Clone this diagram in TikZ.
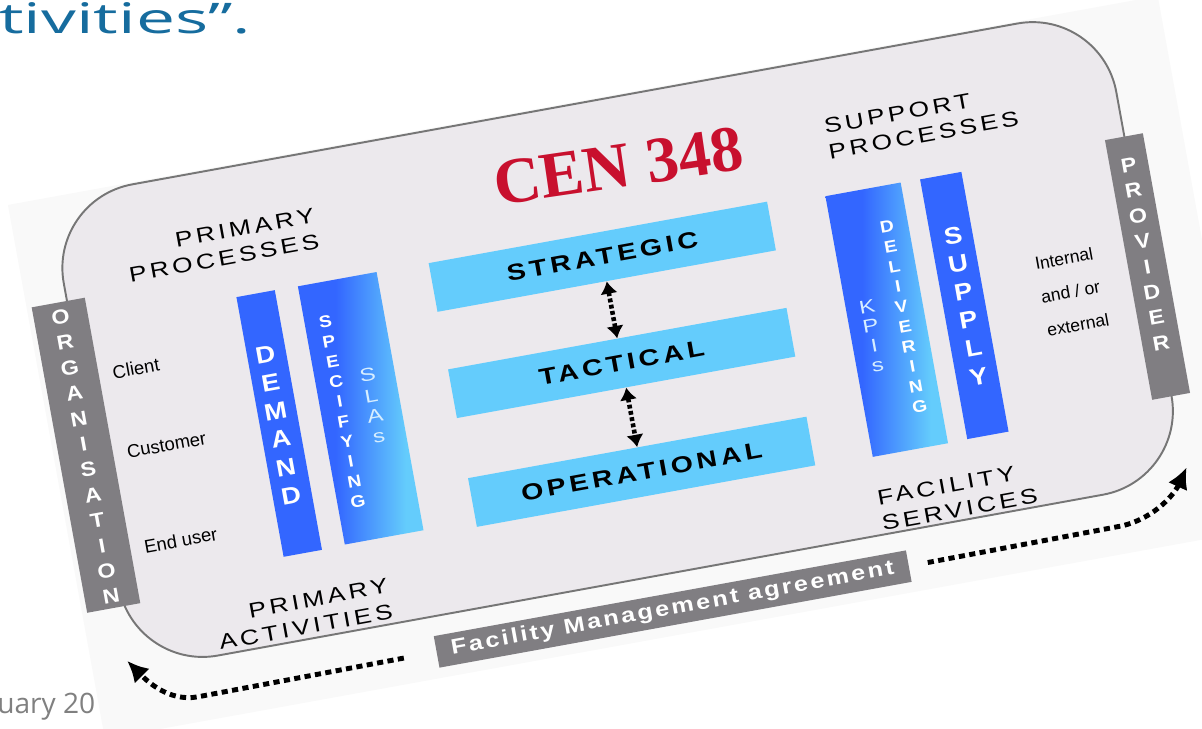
\documentclass[tikz,border=0pt]{standalone}
\usepackage{fontspec}
\setmainfont{Liberation Sans}
\newfontfamily\capsfont[LetterSpace=17, FakeStretch=1.25]{Liberation Sans}
\newfontfamily\barfont[LetterSpace=12, FakeStretch=1.2]{Liberation Sans}
\newfontfamily\stackfont[FakeStretch=1.15]{Liberation Sans}
\newfontfamily\thinfont[FakeStretch=1.3]{Liberation Sans}
\newfontfamily\cenfont{Liberation Serif}
\newfontfamily\slidefont[FakeStretch=1.65]{Open Sans}
\newfontfamily\datefont{Open Sans}
\usetikzlibrary{arrows.meta}

\definecolor{backgray}{RGB}{249,249,249}
\definecolor{panelgray}{RGB}{236,233,237}
\definecolor{edgegray}{RGB}{118,118,118}
\definecolor{bargray}{RGB}{128,126,130}
\definecolor{fmblue}{RGB}{51,102,255}
\definecolor{fmcyan}{RGB}{100,204,252}
\definecolor{palecyan}{RGB}{215,238,255}
\definecolor{cenred}{RGB}{200,16,46}
\definecolor{slideblue}{RGB}{22,108,158}
\definecolor{slidegray}{RGB}{128,128,128}
\pgfdeclarehorizontalshading{fmshade}{100bp}{color(0bp)=(fmblue); color(25bp)=(fmblue); color(40bp)=(fmblue); color(68bp)=(fmcyan); color(100bp)=(fmcyan)}

\begin{document}
\begin{tikzpicture}[
    x=0.02cm, y=-0.02cm,
    every node/.style={transform shape},
    backdrop/.style={rectangle, fill=backgray, inner sep=0pt},
    panel/.style={rectangle, rounded corners=1.7cm, fill=panelgray, draw=edgegray, line width=1.1pt, inner sep=0pt},
    sidebar/.style={rectangle, fill=bargray, inner sep=0pt},
    colbar/.style={rectangle, inner sep=0pt, minimum height=5.28cm},
    levelbar/.style={rectangle, fill=fmcyan, inner sep=0pt, minimum width=6.88cm, minimum height=0.99cm, font=\capsfont\bfseries\fontsize{13}{15}\selectfont},
    fmbar/.style={rectangle, fill=bargray, inner sep=0pt, minimum width=9.6cm, minimum height=0.64cm, text=white, font=\barfont\bfseries\fontsize{12}{14}\selectfont},
    bigletters/.style={align=center, inner sep=0pt, text=white, font=\stackfont\bfseries\fontsize{13.5}{16.3}\selectfont},
    sideletters/.style={align=center, inner sep=0pt, text=white, font=\stackfont\bfseries\fontsize{11.5}{14.7}\selectfont},
    smallletters/.style={align=center, inner sep=0pt, text=white, font=\stackfont\bfseries\fontsize{9.5}{11.55}\selectfont},
    thinletters/.style={align=center, inner sep=0pt, text=palecyan, font=\thinfont\fontsize{10.5}{11.8}\selectfont},
    headtext/.style={inner sep=0pt, font=\capsfont\fontsize{12}{14.8}\selectfont},
    roletext/.style={inner sep=0pt, anchor=west, font=\fontsize{10.5}{12}\selectfont},
    updown/.style={line width=2.6pt, dash pattern=on 2.2pt off 1.4pt, {Latex[length=7pt,width=10pt]}-{Latex[length=7pt,width=10pt]}},
    agreearrow/.style={line width=2.8pt, dash pattern=on 3.5pt off 2.5pt, -{Latex[length=12pt,width=12pt]}}
  ]
    \useasboundingbox (0,0) rectangle (1202,729);

    % Slide text around the picture
    \node[anchor=base west, inner sep=0pt, text=slideblue, font=\slidefont\fontsize{24}{28}\selectfont] (slidetitle) at (-1,34) {tivities”.};
    \node[anchor=base west, inner sep=0pt, text=slidegray, font=\datefont\fontsize{16}{18}\selectfont] (slidedate) at (-3,713) {uary 20};

    \begin{scope}[rotate=10.3]
    % Panel
    \node[backdrop, minimum width=23.38cm, minimum height=10.86cm] (back) at (555.5,474.5) {};
    \node[panel, minimum width=21.4cm, minimum height=9.58cm] (panel) at (547,444.5) {};

    % Organisation and provider
    \node[sidebar, minimum width=1.08cm, minimum height=6.21cm] (org) at (3.2,463.3) {};
    \node[sideletters] (orgtxt) at (2.8,464.7) {O\\R\\G\\A\\N\\I\\S\\A\\T\\I\\O\\N};
    \node[sidebar, minimum width=0.77cm, minimum height=5.28cm] (prov) at (1081.4,467.4) {};
    \node[sideletters] (provtxt) at (1081.1,454.8) {P\\R\\O\\V\\I\\D\\E\\R};

    % Primary processes
    \node[headtext, align=right, anchor=east] (primproc) at (271,281) {PRIMARY\\PROCESSES};
    \node[roletext] (client) at (44,386.8) {Client};
    \node[roletext] (customer) at (44,467.6) {Customer};
    \node[roletext] (enduser) at (44,563.8) {End user};
    \node[colbar, fill=fmblue, minimum width=0.78cm] (demand) at (199,466.6) {};
    \node[bigletters] (demandtxt) at (197.8,468) {D\\E\\M\\A\\N\\D};
    \node[colbar, shading=fmshade, minimum width=1.6cm, minimum height=5.25cm] (specify) at (281.9,466.2) {};
    \node[smallletters] (spectxt) at (262.5,466.2) {S\\P\\E\\C\\I\\F\\Y\\I\\N\\G};
    \node[thinletters] (slatxt) at (294.7,466.1) {S\\L\\A\\s};
    \node[headtext, align=right, anchor=east] (primact) at (277,658.7) {PRIMARY\\ACTIVITIES};

    % Levels
    \node[cenred, inner sep=0pt, rotate=-2, font=\cenfont\bfseries\fontsize{37}{40}\selectfont] (cen) at (579,274) {CEN 348};
    \node[levelbar] (strat) at (546.7,360.3) {STRATEGIC};
    \node[levelbar] (tact) at (546.8,468.3) {TACTICAL};
    \node[levelbar] (oper) at (547,578.9) {OPERATIONAL};
    \draw[updown] (strat.south) -- (tact.north);
    \draw[updown] (tact.south) -- (oper.north);

    % Support processes
    \node[headtext, align=left, anchor=west] (suppproc) at (788,285) {SUPPORT\\PROCESSES};
    \node[colbar, shading=fmshade, minimum width=1.53cm, minimum height=5.3cm] (deliver) at (815.3,473.1) {};
    \node[thinletters, font=\thinfont\fontsize{10.5}{11.2}\selectfont] (kpitxt) at (798.4,486.5) {K\\P\\I\\s};
    \node[smallletters] (delivtxt) at (832.2,473) {D\\E\\L\\I\\V\\E\\R\\I\\N\\G};
    \node[colbar, fill=fmblue, minimum width=0.84cm] (supply) at (894.2,473) {};
    \node[bigletters] (supplytxt) at (895.6,473.6) {S\\U\\P\\P\\L\\Y};
    \node[inner sep=0pt, anchor=west, align=left, font=\fontsize{10}{19.3}\selectfont] (inext) at (971,478.5) {Internal\\and / or\\external};
    \node[headtext, align=left, anchor=west] (facserv) at (774,660) {FACILITY\\SERVICES};

    % Agreement
    \node[fmbar] (fma) at (553,719.5) {Facility Management agreement};
    \coordinate (orgtip) at (7,673);
    \coordinate (provtip) at (1084,672);
    \draw[agreearrow, shorten <=0.66cm] (fma.west) -- (70,721) .. controls (40,721) and (22,695) .. (orgtip);
    \draw[agreearrow, shorten <=0.38cm] (fma.east) -- (1010,718) .. controls (1045,716) and (1068,695) .. (provtip);
    \end{scope}
  \end{tikzpicture}
\end{document}
